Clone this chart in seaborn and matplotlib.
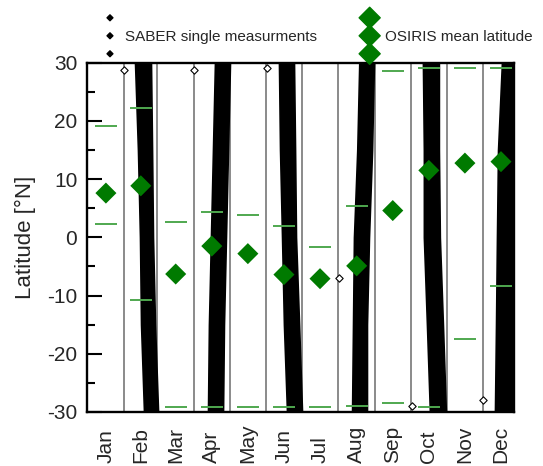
import matplotlib
matplotlib.use("Agg")
import numpy as np
import pandas as pd
import matplotlib.pyplot as plt
from matplotlib.ticker import MultipleLocator
import seaborn as sns

# Month axis (day of year)
months = ['Jan', 'Feb', 'Mar', 'Apr', 'May', 'Jun',
          'Jul', 'Aug', 'Sep', 'Oct', 'Nov', 'Dec']
mid_month = [15.5, 45, 74.5, 105, 135.5, 166, 196.5, 227.5, 258, 288.5, 319, 349.5]
month_bounds = [31, 59, 90, 120, 151, 181, 212, 243, 273, 304, 334]

# OSIRIS monthly mean latitude and the latitude range (upper / lower)
osiris_mean = [7.6, 8.85, -6.3, -1.5, -2.8, -6.4, -7.1, -4.9, 4.6, 11.5, 12.75, 13.0]
osiris_upper = [19.2, 22.3, 2.6, 4.3, 3.9, 1.9, -1.6, 5.3, 28.6, 29.0, 29.1, 29.0]
osiris_lower = [2.3, -10.8, -29.1, -29.1, -29.1, -29.1, -29.1, -28.9, -28.4, -29.1, -17.5, -8.3]

# SABER dense tracks: left / right edge (day of year) at these latitudes
band_lats = [30, 15, 0, -15, -30]
feb_left = [40.1, 42.6, 44.3, 45.2, 47.7]
feb_right = [53.6, 54.5, 55.3, 57.0, 59.6]
apr_left = [107.7, 106.0, 104.3, 102.6, 101.8]
apr_right = [120.4, 118.7, 117.0, 115.3, 114.5]
jun_left = [161.8, 162.7, 164.4, 166.0, 168.6]
jun_right = [174.5, 175.4, 176.2, 178.8, 181.3]
aug_left = [229.7, 228.0, 225.2, 224.4, 223.6]
aug_right = [242.1, 240.5, 237.9, 236.2, 236.2]
oct_left = [283.5, 284.3, 284.3, 286.9, 289.4]
oct_right = [297.0, 297.0, 297.8, 300.4, 302.9]
dec_left = [350.3, 347.0, 346.1, 345.3, 344.4]
dec_right = [366, 366, 366, 366, 366]

# SABER single points at the yaw turns
saber_day = [31, 90, 151.4, 212.6, 274, 334.5]
saber_lat = [28.8, 28.7, 29.0, -6.9, -29.0, -27.9]

sns.set_style("white")
plt.rcParams['font.family'] = ['Liberation Sans', 'DejaVu Sans']
plt.rcParams['axes.unicode_minus'] = False

fig = plt.figure(figsize=(5.43, 4.66), dpi=100)
ax = fig.add_axes([0.1602, 0.1159, 0.7864, 0.7496])

# month separators
for b in month_bounds:
    ax.axvline(b, color='#8a8a8a', lw=1.4, zorder=1)

# SABER tracks
bands = [(feb_left, feb_right), (apr_left, apr_right), (jun_left, jun_right),
         (aug_left, aug_right), (oct_left, oct_right), (dec_left, dec_right)]
for left, right in bands:
    ax.fill_betweenx(band_lats, left, right, color='black', lw=1.2, zorder=2)

# OSIRIS latitude range
half = 9.3
x0 = np.array(mid_month) - half
x1 = np.array(mid_month) + half
ax.hlines(osiris_upper, x0, x1, color='#4fa84f', lw=1.4, zorder=3)
ax.hlines(osiris_lower, x0, x1, color='#4fa84f', lw=1.4, zorder=3)

df_osiris = pd.DataFrame({'day': mid_month, 'lat': osiris_mean})
sns.scatterplot(data=df_osiris, x='day', y='lat', marker='D', s=115,
                color='#007a00', edgecolor='none', ax=ax, zorder=4)

df_saber = pd.DataFrame({'day': saber_day, 'lat': saber_lat})
sns.scatterplot(data=df_saber, x='day', y='lat', marker='D', s=14,
                color='white', edgecolor='black', linewidth=0.8, ax=ax, zorder=5)

ax.set_xlim(-0.5, 360.5)
ax.set_ylim(-30, 30)
ax.set_xticks(mid_month)
ax.set_xticklabels(months, rotation=90, rotation_mode='anchor',
                   ha='left', va='center', fontsize=15)
ax.tick_params(axis='x', length=0, pad=37)
ax.set_yticks([-30, -20, -10, 0, 10, 20, 30])
ax.yaxis.set_minor_locator(MultipleLocator(5))
ax.tick_params(axis='y', which='major', direction='in', length=10.8, width=1.5,
               labelsize=15, pad=7, left=True, color='black')
ax.tick_params(axis='y', which='minor', direction='in', length=5.8, width=1.5,
               left=True, color='black')
ax.set_xlabel('')
ax.set_ylabel('Latitude [°N]', fontsize=16, labelpad=8)
for sp in ax.spines.values():
    sp.set_linewidth(1.7)
    sp.set_color('black')
    sp.set_zorder(6)

# legend
h1 = ax.scatter([], [], marker='D', s=9, color='black', label='SABER single measurments')
h2 = ax.scatter([], [], marker='D', s=115, color='#007a00', label='OSIRIS mean latitude')
fig.legend(handles=[h1, h2], ncol=2, loc='center left',
           bbox_to_anchor=(0.1941, 0.920), frameon=False, fontsize=11,
           scatterpoints=3, scatteryoffsets=[-1.168, 0.514, 2.196],
           handlelength=0.6, handletextpad=0.68, columnspacing=3.15,
           borderpad=0, borderaxespad=0)

fig.savefig('out.png', dpi=100)
